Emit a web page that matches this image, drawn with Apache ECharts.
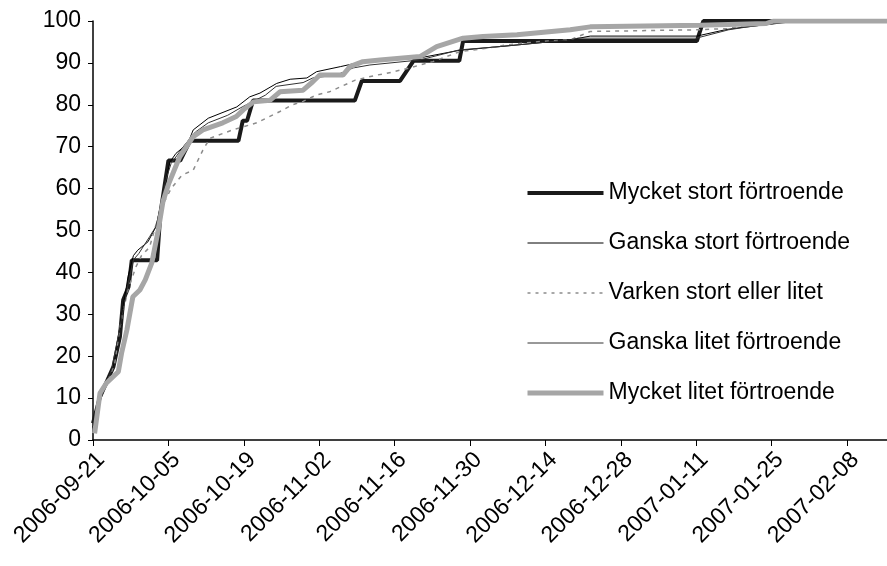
<!DOCTYPE html>
<html>
<head>
<meta charset="utf-8">
<script src="https://cdn.jsdelivr.net/npm/echarts@6/dist/echarts.min.js"></script>
<style>
  html, body { margin: 0; padding: 0; background: #fff; }
  #chart { width: 887px; height: 566px; }
</style>
</head>
<body>
<div id="chart"></div>
<script>
// x = days since 2006-09-21, y = cumulative percent
const tickLabels = ['2006-09-21', '2006-10-05', '2006-10-19', '2006-11-02', '2006-11-16',
  '2006-11-30', '2006-12-14', '2006-12-28', '2007-01-11', '2007-01-25', '2007-02-08']

const mycketStort = [[0, 4], [1.3, 10.3], [3.8, 17.5], [5, 24.7], [5.6, 33.4], [6.6, 36.6],
  [7.2, 42.9], [11.9, 42.9], [12.5, 54], [14, 66.7], [16.2, 66.7], [18, 71.4], [27, 71.4],
  [27.8, 76.2], [28.6, 76.2], [29.7, 81], [48.6, 81], [49.9, 85.7], [57, 85.7], [59.5, 90.5],
  [68, 90.5], [68.7, 95.2], [112.1, 95.2], [113.3, 100], [147.4, 100]]

const ganskaStort = [[0, 3], [1.3, 10], [3.8, 18], [5, 27], [6.5, 39], [7.5, 44], [8.3, 45.3],
  [10.2, 47.3], [11.7, 50.9], [12.4, 54.9], [13.4, 61.3], [14.3, 66.4], [15.4, 68.4],
  [17.6, 70.8], [18.6, 74], [21.4, 76.8], [26.7, 79.5], [29.1, 81.9], [31, 82.8],
  [34.1, 85.1], [36.6, 86.1], [39.7, 86.4], [41.5, 87.9], [45.9, 89.1], [50.1, 90.3],
  [53.3, 90.8], [60.7, 91.2], [68, 93], [75.6, 93.9], [88.6, 95.5], [92.3, 96.4],
  [112.1, 96.4], [117.7, 98], [120.7, 98.5], [131, 100], [147.4, 100]]

const varken = [[0, 2], [1.3, 10], [4, 18], [5, 27], [6.5, 36], [8, 41.4], [9, 44], [10.5, 46],
  [12.5, 55], [14.5, 60], [16.5, 63.2], [18.6, 64.4], [20.4, 69.2], [21.7, 72], [25.9, 74],
  [30.4, 75.7], [34.7, 78.4], [37, 80], [39, 80.8], [41.4, 82.3], [43.9, 83.1], [48.7, 85.9],
  [52.7, 87.1], [54.5, 87.5], [58.8, 88.8], [60.7, 89.5], [63.1, 90.3], [68.1, 92.7],
  [73.1, 93.5], [76.8, 94.3], [83, 95.1], [88.6, 95.5], [92.3, 97.5], [112, 97.9],
  [117.7, 98.2], [122, 99], [126, 100], [147.4, 100]]

const ganskaLitet = [[0, 2], [1.2, 9], [3.5, 17], [5, 27], [6.5, 37], [7.5, 43], [8.5, 44.5],
  [10.5, 48.5], [11.7, 51], [12.5, 55.7], [13.5, 62], [14.5, 66], [17, 70.4], [19, 73.5],
  [21.4, 75.7], [25, 77.5], [27.7, 79.5], [30, 81], [32, 82.3], [34, 84.4], [39, 85.3],
  [40.8, 86.4], [45.2, 87.1], [48.3, 88.8], [51.4, 89.5], [60.7, 90.7], [68, 93.1],
  [75.6, 93.9], [88.6, 95.5], [90, 95.9], [112, 95.9], [118, 97.9], [121, 98.5],
  [130, 100], [147.4, 100]]

const mycketLitet = [[0.3, 1.6], [1.3, 11.2], [2.5, 13.6], [4.7, 16.3], [5.3, 20.7], [6.3, 26.3],
  [7.4, 34.2], [8.7, 35.8], [9.7, 38.2], [10.9, 42.2], [12.1, 50], [13, 57], [14, 61],
  [16.1, 67.6], [18.6, 72.4], [20.4, 74], [24.1, 75.7], [26.6, 77.2], [27.9, 78.8],
  [29.8, 80.7], [32.9, 81.1], [34.7, 83.1], [39, 83.5], [40.8, 85.5], [42.1, 87.1],
  [46.4, 87.1], [47.7, 89.1], [50.1, 90.3], [53.3, 90.7], [57, 91.1], [60.7, 91.5],
  [63.8, 93.9], [68.7, 95.9], [72.4, 96.3], [78.7, 96.7], [88.6, 97.9], [92.3, 98.6],
  [112.7, 99], [125, 99.4], [126.3, 100], [147.4, 100]]

const font = 'Liberation Sans, Arial, sans-serif'

const styles = [
  { name: 'Mycket stort förtroende', data: mycketStort, color: '#1a1a1a', width: 4, type: 'solid' },
  { name: 'Ganska stort förtroende', data: ganskaStort, color: '#000', width: 1, type: 'solid' },
  { name: 'Varken stort eller litet', data: varken, color: '#8c8c8c', width: 1.5, type: [4, 5] },
  { name: 'Ganska litet förtroende', data: ganskaLitet, color: '#333', width: 1, type: 'solid' },
  { name: 'Mycket litet förtroende', data: mycketLitet, color: '#a6a6a6', width: 5, type: 'solid' },
]

const chart = echarts.init(document.getElementById('chart'))
chart.setOption({
  backgroundColor: '#fff',
  animation: false,
  textStyle: { fontFamily: font, color: '#000' },
  grid: { left: 93, right: 0, top: 21, bottom: 126, containLabel: false },
  legend: {
    orient: 'vertical',
    left: 525,
    top: 180,
    padding: 0,
    itemWidth: 76,
    itemHeight: 14,
    itemGap: 24,
    textStyle: { fontSize: 23, color: '#000', fontFamily: font, lineHeight: 26 },
    data: styles.map((s) => ({
      name: s.name,
      itemStyle: { opacity: 0 },
      lineStyle: { color: s.color, width: s.width, type: s.type === 'solid' ? 'solid' : [3, 5] },
    })),
  },
  xAxis: {
    type: 'value',
    min: 0,
    max: 147.4,
    interval: 14,
    splitLine: { show: false },
    axisLine: { lineStyle: { color: '#000', width: 1.5 } },
    axisTick: { show: true, length: 6, lineStyle: { color: '#000' } },
    axisLabel: {
      rotate: 45,
      margin: 8,
      verticalAlign: 'top',
      fontSize: 23,
      color: '#000',
      showMaxLabel: false,
      formatter: (v) => (v % 14 === 0 ? tickLabels[v / 14] || '' : ''),
    },
  },
  yAxis: {
    type: 'value',
    min: 0,
    max: 100,
    interval: 10,
    splitLine: { show: false },
    axisLine: { show: true, lineStyle: { color: '#000', width: 1.5 } },
    axisTick: { show: true, length: 5, lineStyle: { color: '#000' } },
    axisLabel: { fontSize: 23, color: '#000', margin: 12 },
  },
  series: styles.map((s) => ({
    name: s.name,
    type: 'line',
    data: s.data,
    symbol: 'none',
    lineStyle: { color: s.color, width: s.width, type: s.type },
    itemStyle: { color: s.color },
  })),
})
</script>
</body>
</html>
